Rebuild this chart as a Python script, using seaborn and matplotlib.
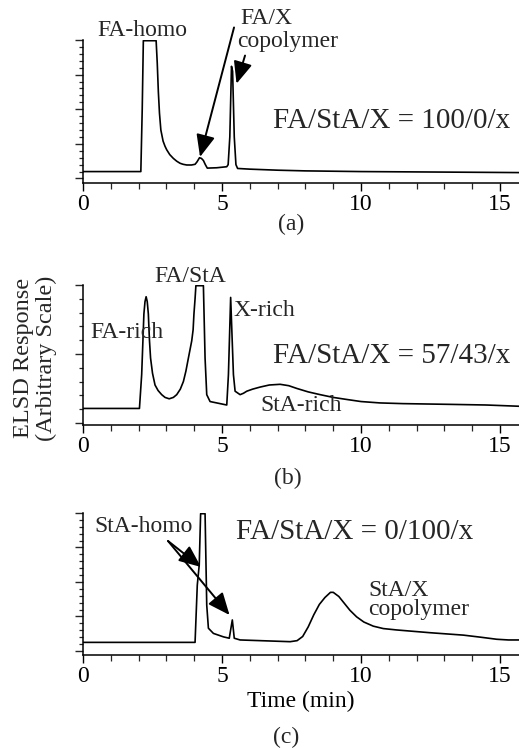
import numpy as np
import pandas as pd
import matplotlib
matplotlib.use("Agg")
import matplotlib.pyplot as plt
import seaborn as sns
from matplotlib.ticker import MultipleLocator, NullFormatter

# ---------------- data ----------------
time_a = [0, 2.08, 2.13, 2.17, 2.63, 2.67, 2.71, 2.75, 2.80, 2.88, 2.95, 3.01, 3.12,
          3.25, 3.37, 3.49, 3.60, 3.73, 3.90, 4.03, 4.10, 4.19, 4.26, 4.33, 4.40, 4.47,
          4.81, 5.17, 5.22, 5.28, 5.34, 5.38, 5.44, 5.50, 5.56, 6.0, 7.0, 8.0, 10.0,
          12.0, 14.0, 15.8]
resp_a = [0.20, 0.20, 2.00, 3.98, 3.98, 3.34, 2.50, 1.89, 1.40, 1.08, 0.93, 0.83, 0.69,
          0.58, 0.50, 0.44, 0.41, 0.39, 0.39, 0.41, 0.48, 0.60, 0.58, 0.52, 0.40, 0.30,
          0.31, 0.34, 0.40, 1.20, 3.24, 3.10, 1.20, 0.40, 0.29, 0.27, 0.24, 0.22, 0.20,
          0.19, 0.18, 0.17]

time_b = [0, 2.03, 2.11, 2.19, 2.23, 2.27, 2.31, 2.35, 2.39, 2.43, 2.50, 2.59, 2.70,
          2.83, 2.95, 3.10, 3.25, 3.37, 3.50, 3.61, 3.70, 3.79, 3.91, 3.96, 3.99, 4.03,
          4.06, 4.33, 4.39, 4.45, 4.57, 4.93, 5.17, 5.23, 5.31, 5.41, 5.47, 5.65, 5.77,
          5.89, 6.10, 6.37, 6.70, 7.09, 7.40, 7.69, 8.10, 8.53, 9.00, 9.49, 10.00,
          10.68, 11.50, 13.08, 14.50, 15.8]
resp_b = [0.21, 0.21, 0.70, 1.58, 1.76, 1.83, 1.76, 1.58, 1.20, 0.94, 0.72, 0.55, 0.47,
          0.41, 0.37, 0.35, 0.37, 0.41, 0.49, 0.60, 0.75, 0.94, 1.19, 1.35, 1.58, 1.80,
          1.99, 1.99, 0.94, 0.41, 0.31, 0.28, 0.26, 0.70, 1.82, 0.70, 0.46, 0.41, 0.43,
          0.46, 0.49, 0.52, 0.55, 0.56, 0.54, 0.50, 0.45, 0.41, 0.37, 0.34, 0.31,
          0.29, 0.28, 0.27, 0.26, 0.24]

time_c = [0, 4.03, 4.11, 4.18, 4.23, 4.39, 4.45, 4.51, 4.69, 5.05, 5.26, 5.37, 5.44,
          5.65, 7.45, 7.70, 7.90, 8.10, 8.30, 8.50, 8.70, 8.90, 9.00, 9.20, 9.40, 9.60,
          9.84, 10.10, 10.44, 10.80, 11.28, 12.48, 13.68, 14.30, 14.88, 15.30, 15.8]
resp_c = [0.25, 0.25, 1.91, 2.49, 3.98, 3.98, 1.33, 0.66, 0.51, 0.41, 0.37, 0.90, 0.37,
          0.32, 0.27, 0.30, 0.42, 0.70, 1.05, 1.35, 1.55, 1.70, 1.70, 1.58, 1.38, 1.18,
          0.99, 0.84, 0.72, 0.65, 0.61, 0.53, 0.46, 0.40, 0.34, 0.32, 0.32]

x_ticks = [0, 5, 10, 15]
x_tick_labels = ["0", "5", "10", "15"]
panel_labels = ["(a)", "(b)", "(c)"]
ratio_labels = ["FA/StA/X = 100/0/x", "FA/StA/X = 57/43/x", "FA/StA/X = 0/100/x"]

# ---------------- style ----------------
sns.set_theme(style="ticks")
plt.rcParams["font.family"] = ["Liberation Serif", "DejaVu Serif"]
plt.rcParams["axes.linewidth"] = 1.1

W, H = 519, 748
fig = plt.figure(figsize=(W / 100, H / 100), dpi=100)
fig.patch.set_facecolor("white")


def rect(top, bottom):
    return [83 / W, 1 - bottom / H, (W - 83) / W, (bottom - top) / H]


def fx(x):
    return x / W


def fy(y):
    return 1 - y / H


ax_a = fig.add_axes(rect(40, 183))
ax_b = fig.add_axes(rect(285, 425))
ax_c = fig.add_axes(rect(513, 655))

panels = [
    (ax_a, time_a, resp_a, (-0.13, 4.0)),
    (ax_b, time_b, resp_b, (-0.03, 2.0)),
    (ax_c, time_c, resp_c, (-0.116, 4.0)),
]

for ax, t, r, ylim in panels:
    df = pd.DataFrame({"Time (min)": t, "Response": r})
    sns.lineplot(data=df, x="Time (min)", y="Response", ax=ax, color="black",
                 lw=1.2, estimator=None, sort=False)
    ax.set_xlim(0, 15.68)
    ax.set_ylim(*ylim)
    ax.set_facecolor("white")
    sns.despine(ax=ax)
    ax.set_xticks(x_ticks)
    ax.set_xticklabels(x_tick_labels)
    ax.xaxis.set_minor_locator(MultipleLocator(1))
    ax.yaxis.set_major_locator(MultipleLocator(1.0))
    ax.yaxis.set_minor_locator(MultipleLocator(0.2))
    ax.yaxis.set_major_formatter(NullFormatter())
    ax.tick_params(axis="x", which="major", length=6, width=1.0, labelsize=17,
                   pad=2, direction="out", colors="black")
    ax.tick_params(axis="x", which="minor", length=4, width=0.9, direction="out")
    ax.tick_params(axis="y", which="major", length=6, width=1.0, direction="out")
    ax.tick_params(axis="y", which="minor", length=3, width=0.9, direction="out")
    ax.set_ylabel("")
    ax.set_xlabel("")
    for s in ax.spines.values():
        s.set_color("black")

ax_c.set_xlabel("Time (min)", fontsize=17, labelpad=3, color="black")

# panel labels
fig.text(fx(291), fy(224), panel_labels[0], ha="center", va="center", fontsize=17)
fig.text(fx(288), fy(478), panel_labels[1], ha="center", va="center", fontsize=17)
fig.text(fx(286), fy(737), panel_labels[2], ha="center", va="center", fontsize=17)

# y label
fig.text(fx(35), fy(358), "ELSD Response\n(Arbitrary Scale)", rotation=90,
         ha="center", va="center", fontsize=17.5, linespacing=1.1,
         multialignment="center")

# ratio texts
fig.text(fx(392), fy(121), ratio_labels[0], ha="center", va="center", fontsize=21)
fig.text(fx(392), fy(356), ratio_labels[1], ha="center", va="center", fontsize=21)
fig.text(fx(355), fy(532), ratio_labels[2], ha="center", va="center", fontsize=21)

# annotations panel (a)
fig.text(fx(142), fy(30), "FA-homo", ha="center", va="center", fontsize=17)
fig.text(fx(240), fy(19), "FA/X", ha="left", va="center", fontsize=17)
fig.text(fx(237), fy(41), "copolymer", ha="left", va="center", fontsize=17)

# annotations panel (b)
fig.text(fx(190), fy(277), "FA/StA", ha="center", va="center", fontsize=17)
fig.text(fx(127), fy(333), "FA-rich", ha="center", va="center", fontsize=17)
fig.text(fx(233), fy(311), "X-rich", ha="left", va="center", fontsize=17)
fig.text(fx(301), fy(405), "StA-rich", ha="center", va="center", fontsize=17)

# annotations panel (c)
fig.text(fx(144), fy(527), "StA-homo", ha="center", va="center", fontsize=17)
fig.text(fx(368), fy(590), "StA/X", ha="left", va="center", fontsize=17)
fig.text(fx(368), fy(609), "copolymer", ha="left", va="center", fontsize=17)

arrow = dict(arrowstyle="-|>,head_length=0.75,head_width=0.32", color="black",
             lw=1.4, shrinkA=0, shrinkB=0, mutation_scale=18)


def dpx(x, y, zero, unit):
    # convert a pixel position of the reference into data coords for arrows
    return ((x - 83) / 27.8, (zero - y) / unit)


ax_a.annotate("", xy=dpx(200, 157, 178.5, 34.5), xytext=dpx(234, 28, 178.5, 34.5),
              arrowprops=arrow, annotation_clip=False)
ax_a.annotate("", xy=dpx(236.5, 84, 178.5, 34.5), xytext=dpx(245, 56, 178.5, 34.5),
              arrowprops=arrow, annotation_clip=False)

ax_c.annotate("", xy=dpx(201, 567, 651, 34.5), xytext=dpx(168, 541, 651, 34.5),
              arrowprops=arrow, annotation_clip=False)
ax_c.annotate("", xy=dpx(229.5, 615, 651, 34.5), xytext=dpx(168, 541, 651, 34.5),
              arrowprops=arrow, annotation_clip=False)

fig.savefig("out.png", dpi=100, facecolor="white")
